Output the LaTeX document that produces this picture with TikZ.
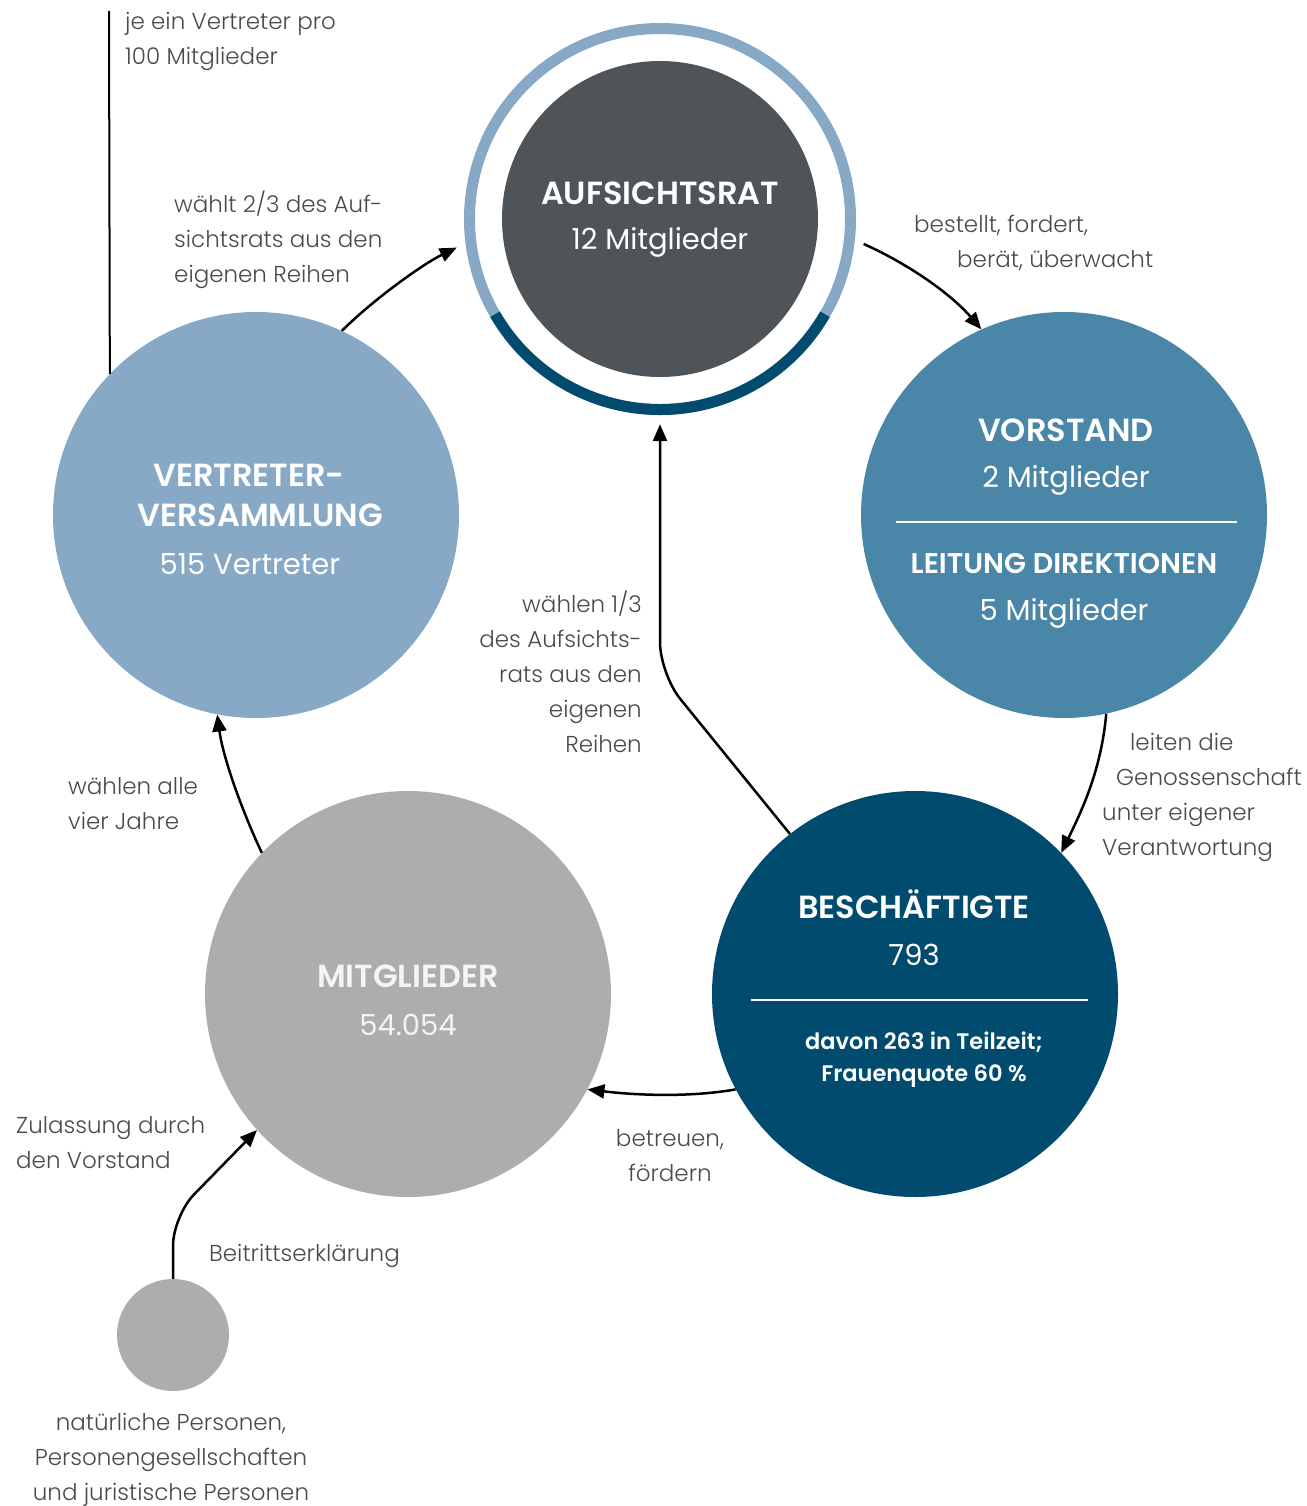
\documentclass[tikz,border=0pt]{standalone}
\usepackage{fontspec}
\setmainfont{Poppins}[BoldFont={Poppins SemiBold}]
\newfontfamily\lightfont{Poppins Light}
\usetikzlibrary{arrows.meta}
\definecolor{cLight}{HTML}{87A9C6}
\definecolor{cMid}{HTML}{4A86A8}
\definecolor{cDark}{HTML}{004B6E}
\definecolor{cAnth}{HTML}{4F5459}
\definecolor{cGray}{HTML}{ACADAF}
\definecolor{cText}{HTML}{4A4A4A}
\definecolor{cSoft}{HTML}{F4F4F4}
\begin{document}
\begin{tikzpicture}[x=1pt,y=-1pt,
  bigc/.style={circle,inner sep=0pt,minimum size=406pt,draw=none},
  ttl/.style={font=\bfseries\fontsize{32}{40}\selectfont,text=white,inner sep=0pt,text height=22.5pt,text depth=0pt},
  ttlb/.style={font=\bfseries\fontsize{28.5}{32}\selectfont,text=white,inner sep=0pt,text height=19.5pt,text depth=0pt},
  sml/.style={font=\bfseries\fontsize{22.5}{26}\selectfont,text=white,inner sep=0pt,text height=15.5pt,text depth=0pt},
  sub/.style={font=\fontsize{29}{34}\selectfont,text=white,inner sep=0pt,text height=20pt,text depth=0pt},
  lbl/.style={font=\lightfont\fontsize{23}{35}\selectfont,text=cText,inner sep=0pt},
  conn/.style={line width=2.5pt,draw=black,-{Triangle[length=17pt,width=14pt]}},
  sepline/.style={draw=white,line width=2.5pt}
]
\useasboundingbox (0,0) rectangle (1306,1506);

% circles
\node[bigc,fill=cLight] (V) at (256,515) {};
\node[bigc,fill=cMid] (Vo) at (1064,515) {};
\node[bigc,fill=cDark] (B) at (915,994) {};
\node[bigc,fill=cGray] (M) at (408,994) {};
\node[circle,inner sep=0pt,minimum size=112pt,fill=cGray] (S) at (173,1335) {};
\node[circle,inner sep=0pt,minimum size=410pt] (A) at (660,219) {};
\node[circle,inner sep=0pt,minimum size=316pt,fill=cAnth] (Ai) at (660,219) {};
\draw[cLight,line width=11pt] (A.center) circle[radius=190.5pt];
\draw[cDark,line width=11pt] (A.center) ++(-150:190.5pt) arc[start angle=-150,end angle=-30,radius=190.5pt];

% separators
\draw[sepline] (896,522) -- (1237,522);
\draw[sepline] (751,1000) -- (1088,1000);

% connectors
\coordinate (ltop) at (109,11);
\draw[line width=2pt] (ltop) -- (V.136.4);
\draw[conn] (V.65) .. controls +(30,-30) and +(-35,17) .. (A.188);
\draw[conn] (A.-7) .. controls +(45,20) and +(-30,-35) .. (Vo.114);
\draw[conn] (Vo.-78) .. controls +(-5,55) and +(22,-45) .. (B.44);
\draw[conn] (B.208) .. controls +(-45,8) and +(50,6) .. (M.-28);
\draw[conn,rounded corners=32pt] (B.128.6) -- (660,674) -- (A.-90);
\draw[conn] (M.136) .. controls +(-18,-38) and +(6,45) .. (V.-101);
\draw[conn,rounded corners=30pt] (S.north) -- (173,1216) -- (M.222);

% circle texts
\node[ttl] (tA) at (660,193.5) {AUFSICHTSRAT};
\node[sub] (sA) at (660,240) {12 Mitglieder};
\node[ttl] (tV1) at (249,475) {VERTRETER-};
\node[ttl] (tV2) at (260,515) {VERSAMMLUNG};
\node[sub] (sV) at (250,564) {515 Vertreter};
\node[ttl] (tVo) at (1066,430) {VORSTAND};
\node[sub] (sVo) at (1066,477) {2 Mitglieder};
\node[ttlb] (tL) at (1064,564) {LEITUNG DIREKTIONEN};
\node[sub] (sL) at (1064,610) {5 Mitglieder};
\node[ttl] (tB) at (914,907) {BESCHÄFTIGTE};
\node[sub] (sB) at (914,955) {793};
\node[sml] (d1) at (924,1041.5) {davon 263 in Teilzeit;};
\node[sml] (d2) at (924,1074) {Frauenquote 60 \%};
\node[ttl,text=cSoft] (tM) at (408,976.5) {MITGLIEDER};
\node[sub,text=cSoft] (sM) at (408,1025) {54.054};

% labels
\node[lbl,anchor=west,align=left] (l1) at (125,41) {je ein Vertreter pro\\100 Mitglieder};
\node[lbl,anchor=west,align=left] (l2) at (174,240) {wählt 2/3 des Auf-\\sichtsrats aus den\\eigenen Reihen};
\node[lbl,anchor=west,align=left] (l3) at (914,243) {bestellt, fordert,\\\hspace*{43pt}berät, überwacht};
\node[lbl,anchor=east,align=right] (l4) at (642,671.5) {wählen 1/3\\des Aufsichts-\\rats aus den\\eigenen\\Reihen};
\node[lbl,anchor=west,align=left] (l5) at (1102,797) {\hspace*{28pt}leiten die\\\hspace*{14pt}Genossenschaft\\unter eigener\\Verantwortung};
\node[lbl,anchor=west,align=left] (l6) at (68,804) {wählen alle\\vier Jahre};
\node[lbl,align=center] (l7) at (670,1156) {betreuen,\\fördern};
\node[lbl,anchor=west,align=left] (l8) at (16,1143) {Zulassung durch\\den Vorstand};
\node[lbl,anchor=west] (l9) at (209,1256) {Beitrittserklärung};
\node[lbl,align=center] (l10) at (171,1460) {natürliche Personen,\\Personengesellschaften\\und juristische Personen};
\end{tikzpicture}
\end{document}
